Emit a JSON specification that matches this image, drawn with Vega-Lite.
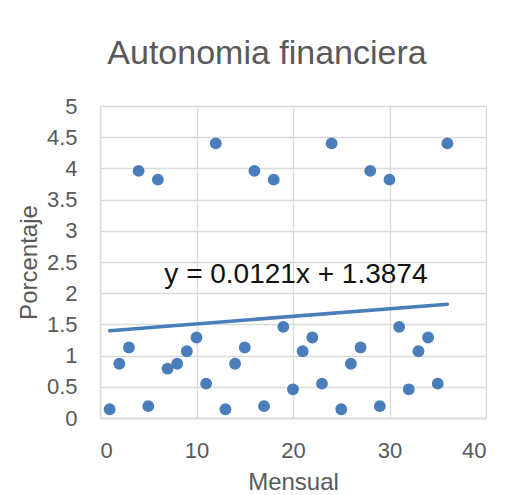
{
  "$schema": "https://vega.github.io/schema/vega-lite/v6.json",
  "width": 386,
  "height": 312,
  "autosize": "none",
  "padding": {"left": 100, "top": 106, "right": 35, "bottom": 77},
  "background": "white",
  "config": {
    "font": "Liberation Sans",
    "view": {"stroke": null},
    "axis": {
      "gridColor": "#d9d9d9",
      "gridWidth": 1.3,
      "domainColor": "#d9d9d9",
      "domainWidth": 1.3,
      "ticks": false,
      "tickSize": 0,
      "labelOverlap": false,
      "labelFont": "Liberation Sans",
      "labelFontSize": 22,
      "labelColor": "#595959",
      "titleFont": "Liberation Sans",
      "titleFontSize": 24,
      "titleFontWeight": "normal",
      "titleColor": "#595959"
    }
  },
  "title": {
    "text": "Autonomia financiera",
    "font": "Liberation Sans",
    "fontSize": 34,
    "fontWeight": "normal",
    "color": "#595959",
    "anchor": "middle",
    "baseline": "alphabetic",
    "offset": -3,
    "dx": -26
  },
  "datasets": {
    "points": [
      {"mes": 1, "valor": 0.14}, {"mes": 2, "valor": 0.87}, {"mes": 3, "valor": 1.13},
      {"mes": 4, "valor": 3.96}, {"mes": 5, "valor": 0.19}, {"mes": 6, "valor": 3.82},
      {"mes": 7, "valor": 0.79}, {"mes": 8, "valor": 0.87}, {"mes": 9, "valor": 1.07},
      {"mes": 10, "valor": 1.29}, {"mes": 11, "valor": 0.55}, {"mes": 12, "valor": 4.4},
      {"mes": 13, "valor": 0.14}, {"mes": 14, "valor": 0.87}, {"mes": 15, "valor": 1.13},
      {"mes": 16, "valor": 3.96}, {"mes": 17, "valor": 0.19}, {"mes": 18, "valor": 3.82},
      {"mes": 19, "valor": 1.46}, {"mes": 20, "valor": 0.46}, {"mes": 21, "valor": 1.07},
      {"mes": 22, "valor": 1.29}, {"mes": 23, "valor": 0.55}, {"mes": 24, "valor": 4.4},
      {"mes": 25, "valor": 0.14}, {"mes": 26, "valor": 0.87}, {"mes": 27, "valor": 1.13},
      {"mes": 28, "valor": 3.96}, {"mes": 29, "valor": 0.19}, {"mes": 30, "valor": 3.82},
      {"mes": 31, "valor": 1.46}, {"mes": 32, "valor": 0.46}, {"mes": 33, "valor": 1.07},
      {"mes": 34, "valor": 1.29}, {"mes": 35, "valor": 0.55}, {"mes": 36, "valor": 4.4}
    ],
    "trend": [
      {"mes": 1, "valor": 1.3995},
      {"mes": 36, "valor": 1.823}
    ],
    "label": [
      {"mes": 20.3, "valor": 2.16, "texto": "y = 0.0121x + 1.3874"}
    ]
  },
  "encoding": {
    "x": {
      "field": "mes", "type": "quantitative",
      "scale": {"domain": [0, 40], "nice": false},
      "axis": {"values": [0, 10, 20, 30, 40], "title": "Mensual", "labelPadding": 22, "titlePadding": 9}
    },
    "y": {
      "field": "valor", "type": "quantitative",
      "scale": {"domain": [0, 5], "nice": false},
      "axis": {"values": [0, 0.5, 1, 1.5, 2, 2.5, 3, 3.5, 4, 4.5, 5], "format": "~g", "title": "Porcentaje", "labelPadding": 23, "titlePadding": 5}
    }
  },
  "layer": [
    {
      "data": {"name": "points"},
      "mark": {"type": "point", "filled": true, "opacity": 1, "size": 140, "color": "#4a7ebb"}
    },
    {
      "data": {"name": "trend"},
      "mark": {"type": "line", "color": "#4a7ebb", "strokeWidth": 3.5, "strokeCap": "round"}
    },
    {
      "data": {"name": "label"},
      "mark": {"type": "text", "font": "Liberation Sans", "fontSize": 28, "color": "#111111", "align": "center", "baseline": "alphabetic"},
      "encoding": {
        "text": {"field": "texto"}
      }
    }
  ]
}
